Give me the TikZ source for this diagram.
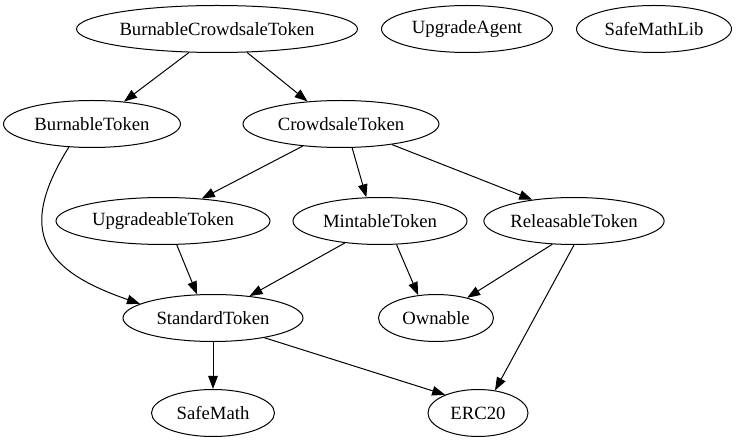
\documentclass[tikz,border=0pt]{standalone}
\usepackage{fontspec}
\setmainfont{Liberation Serif}
\usetikzlibrary{shapes.geometric,arrows.meta}

\tikzset{
	cls/.style={draw, ellipse, line width=1pt, inner sep=0pt, minimum height=47pt,
		font=\fontsize{18.7}{20}\selectfont},
	dep/.style={line width=1pt, -{Triangle[length=13pt,width=9.5pt]}}
}

\begin{document}
\begin{tikzpicture}[x=1pt,y=-1pt]
	\useasboundingbox (0,0) rectangle (736,443);

	\node[cls, minimum width=281pt] (bct) at (217,29) {BurnableCrowdsaleToken};
	\node[cls, minimum width=171pt] (agent) at (467,29) {UpgradeAgent};
	\node[cls, minimum width=155pt] (mathlib) at (654,29) {SafeMathLib};

	\node[cls, minimum width=177pt] (burnable) at (92,124) {BurnableToken};
	\node[cls, minimum width=196pt] (crowdsale) at (341,124) {CrowdsaleToken};

	\node[cls, minimum width=214pt] (upgradeable) at (163,221) {UpgradeableToken};
	\node[cls, minimum width=174pt] (mintable) at (380,221) {MintableToken};
	\node[cls, minimum width=170pt] (releasable) at (574,221) {ReleasableToken};

	\node[cls, minimum width=180pt] (standard) at (213,318) {StandardToken};
	\node[cls, minimum width=115pt] (ownable) at (436,318) {Ownable};

	\node[cls, minimum width=123pt] (safemath) at (213,413) {SafeMath};
	\node[cls, minimum width=100pt] (erc) at (478,413) {ERC20};

	\draw[dep] (bct.-140) -- (burnable.35);
	\draw[dep] (bct.-38) -- (crowdsale.146);
	\draw[dep] (burnable.-135) to[out=-122, in=161, looseness=1.5] (standard.169);
	\draw[dep] (crowdsale.-150) -- (upgradeable.30);
	\draw[dep] (crowdsale.-65) -- (mintable.120);
	\draw[dep] (crowdsale.-22) -- (releasable.153);
	\draw[dep] (upgradeable.-60) -- (standard.124);
	\draw[dep] (mintable.-148) -- (standard.31);
	\draw[dep] (mintable.-55) -- (ownable.128);
	\draw[dep] (releasable.-133) -- (ownable.33);
	\draw[dep] (releasable.-90) -- (erc.53);
	\draw[dep] (standard.-90) -- (safemath.90);
	\draw[dep] (standard.-21) -- (erc.151);

\end{tikzpicture}
\end{document}
